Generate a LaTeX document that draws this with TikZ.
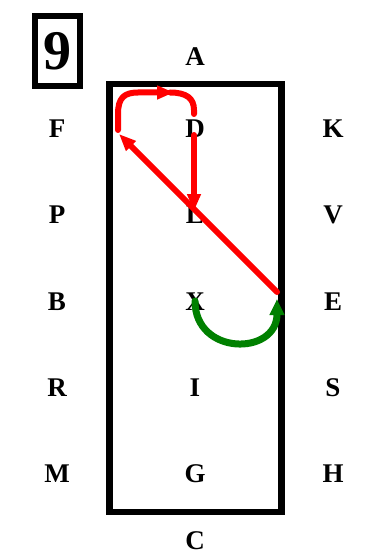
\documentclass[tikz,border=0pt]{standalone}
\usepackage{fontspec}
\setmainfont{Liberation Serif}
\usetikzlibrary{arrows.meta}
\begin{document}
\begin{tikzpicture}[x=1pt,y=-1pt,
  lbl/.style={font=\fontsize{27}{27}\selectfont\bfseries, inner sep=0pt},
  redline/.style={draw=red, line width=6pt, line cap=round, line join=round},
  greenline/.style={draw={rgb,255:red,0;green,128;blue,0}, line width=7pt, line cap=round},
  tipR/.style={-{Triangle[length=17pt,width=13pt]}},
  tipG/.style={-{Triangle[length=16pt,width=14pt]}}]
\useasboundingbox (0,0) rectangle (371,556);
% number box
\node[draw, line width=6pt, minimum width=45pt, minimum height=70pt, inner sep=0pt,
      font=\fontsize{56}{56}\selectfont\bfseries] (nine) at (57.5,51) {9};
% main rectangle
\draw[line width=6.5pt] (109.5,84) rectangle (281.5,512);
% letters
\node[lbl] (A) at (195,57) {A};
\node[lbl] (F) at (57,129) {F};
\node[lbl] (D) at (195,129) {D};
\node[lbl] (K) at (333,129) {K};
\node[lbl] (P) at (57,215) {P};
\node[lbl] (L) at (195,215) {L};
\node[lbl] (V) at (333,215) {V};
\node[lbl] (B) at (57,302) {B};
\node[lbl] (X) at (195,302) {X};
\node[lbl] (E) at (333,302) {E};
\node[lbl] (R) at (57,388) {R};
\node[lbl] (I) at (195,388) {I};
\node[lbl] (S) at (333,388) {S};
\node[lbl] (M) at (57,474) {M};
\node[lbl] (G) at (195,474) {G};
\node[lbl] (H) at (333,474) {H};
\node[lbl] (C) at (195,541) {C};
% path coordinates
\coordinate (xs) at (195,301);
\coordinate (ee) at (277,299);
\coordinate (es) at (277,292);
\coordinate (fc) at (119,134);
\coordinate (lp) at (118,130);
\coordinate (tm) at (174,92.5);
\coordinate (ds) at (194,114);
\coordinate (d1) at (194,135);
\coordinate (l1) at (194,211);
% green arc X -> E
\draw[greenline, tipG] (xs) .. controls (195,356) and (277,356) .. (ee);
% red diagonal E -> corner
\draw[redline, tipR] (es) -- (fc);
% red loop over the top to D
\draw[redline, tipR] (lp) -- (118,114) .. controls (118,98) and (124,92.5) .. (138,92.5) -- (tm);
\draw[redline] (170,92.5) .. controls (186,92.5) and (194,98) .. (194,110) -- (ds);
% red D -> L
\draw[redline, tipR] (d1) -- (l1);
\end{tikzpicture}
\end{document}
